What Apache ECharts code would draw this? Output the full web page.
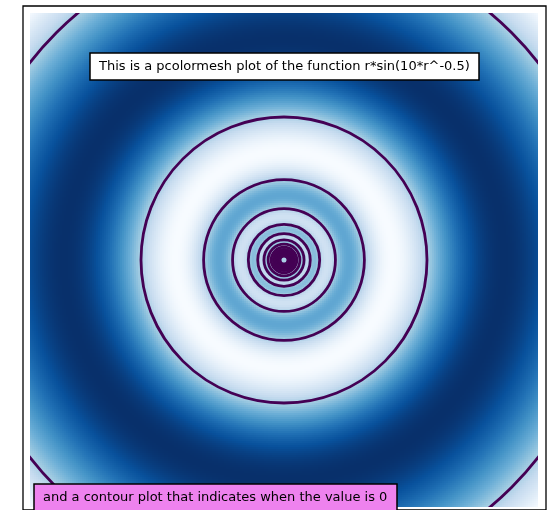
<!DOCTYPE html>
<html>
<head>
<meta charset="utf-8">
<script src="https://cdn.jsdelivr.net/npm/echarts@6/dist/echarts.min.js"></script>
<style>html,body{margin:0;padding:0;background:#fff;}#c{width:552px;height:510px;}</style>
</head>
<body>
<div id="c"></div>
<script>
// ---- data ----
// Function stated in the chart: r*sin(10*r^-0.5)
const FREQ = 10;
const POWER = -0.5;
// Mesh extent (data units) and resolution
const xRange = [-2, 2];
const yRange = [-1.945, 1.945];
const nCols = 254;
const nRows = 247;
// Radii where the contour (value = 0) lines appear
const contourRadii = [2.533, 1.126, 0.633, 0.405, 0.281, 0.207, 0.158, 0.125, 0.101, 0.084, 0.070, 0.060, 0.052, 0.045, 0.040, 0.035, 0.031];
// matplotlib "Blues" colormap stops
const bluesColors = ['#f7fbff', '#deebf7', '#c6dbef', '#9ecae1', '#6baed6', '#4292c6', '#2171b5', '#08519c', '#08306b'];
const titleText = 'This is a pcolormesh plot of the function r*sin(10*r^-0.5)';
const noteText = 'and a contour plot that indicates when the value is 0';

// ---- build mesh ----
const xCenters = [], yCenters = [];
const dx = (xRange[1] - xRange[0]) / nCols, dy = (yRange[1] - yRange[0]) / nRows;
for (let i = 0; i < nCols; i++) xCenters.push(xRange[0] + dx * (i + 0.5));
for (let j = 0; j < nRows; j++) yCenters.push(yRange[0] + dy * (j + 0.5));
const meshData = [];
let vmin = Infinity, vmax = -Infinity;
for (let i = 0; i < nCols; i++) {
  for (let j = 0; j < nRows; j++) {
    const r = Math.sqrt(xCenters[i] * xCenters[i] + yCenters[j] * yCenters[j]);
    const v = r * Math.sin(FREQ * Math.pow(r, POWER));
    if (v < vmin) vmin = v;
    if (v > vmax) vmax = v;
    meshData.push([xCenters[i], yCenters[j], v]);
  }
}
const contourData = contourRadii.map(r => [0, 0, r]);

const chart = echarts.init(document.getElementById('c'), null, {renderer: 'canvas'});
const frameRect = {left: 23, top: 6, width: 523, height: 508};
const imgRect = {left: 30, top: 13, width: 508, height: 494};
chart.setOption({
  animation: false,
  backgroundColor: '#fff',
  title: [
    {
      text: titleText, left: 90, top: 53,
      backgroundColor: '#fff', borderColor: '#000', borderWidth: 1.5,
      padding: [6, 9, 6, 9],
      textStyle: {fontFamily: 'DejaVu Sans', fontSize: 13, fontWeight: 'normal', color: '#000', lineHeight: 15}
    },
    {
      text: noteText, left: 34, top: 484,
      backgroundColor: '#ee82ee', borderColor: '#000', borderWidth: 1.5,
      padding: [6, 10, 6, 9],
      textStyle: {fontFamily: 'DejaVu Sans', fontSize: 13, fontWeight: 'normal', color: '#000', lineHeight: 15}
    }
  ],
  grid: [
    Object.assign({show: true, borderColor: '#000', borderWidth: 1.3, backgroundColor: 'transparent'}, frameRect),
    Object.assign({show: false}, imgRect)
  ],
  xAxis: [
    {type: 'value', gridIndex: 0, min: -1, max: 1, show: false},
    {type: 'value', gridIndex: 1, min: xRange[0], max: xRange[1], show: false}
  ],
  yAxis: [
    {type: 'value', gridIndex: 0, min: -1, max: 1, show: false},
    {type: 'value', gridIndex: 1, min: yRange[0], max: yRange[1], show: false}
  ],
  visualMap: {
    type: 'continuous', show: false, seriesIndex: 0, dimension: 2,
    min: vmin, max: vmax, inRange: {color: bluesColors}
  },
  series: [
    {
      type: 'custom', xAxisIndex: 1, yAxisIndex: 1, data: meshData,
      clip: true, silent: true, z: 2,
      progressive: 0, progressiveThreshold: 1e7,
      encode: {x: 0, y: 1},
      renderItem: function (params, api) {
        const x = api.value(0), y = api.value(1);
        const p0 = api.coord([x - dx / 2, y + dy / 2]);
        const p1 = api.coord([x + dx / 2, y - dy / 2]);
        const x0 = Math.round(p0[0]), y0 = Math.round(p0[1]);
        const x1 = Math.round(p1[0]), y1 = Math.round(p1[1]);
        return {
          type: 'rect',
          shape: {x: x0, y: y0, width: x1 - x0, height: y1 - y0},
          style: {fill: api.visual('color'), stroke: null}
        };
      }
    },
    {
      type: 'custom', xAxisIndex: 1, yAxisIndex: 1, data: contourData,
      clip: true, silent: true, z: 5,
      encode: {x: 0, y: 1},
      renderItem: function (params, api) {
        const c = api.coord([api.value(0), api.value(1)]);
        const rr = api.size([api.value(2), 0])[0];
        return {
          type: 'circle',
          shape: {cx: c[0], cy: c[1], r: rr},
          style: {fill: 'none', stroke: '#440154', lineWidth: 2.8}
        };
      }
    }
  ]
});
</script>
</body>
</html>
